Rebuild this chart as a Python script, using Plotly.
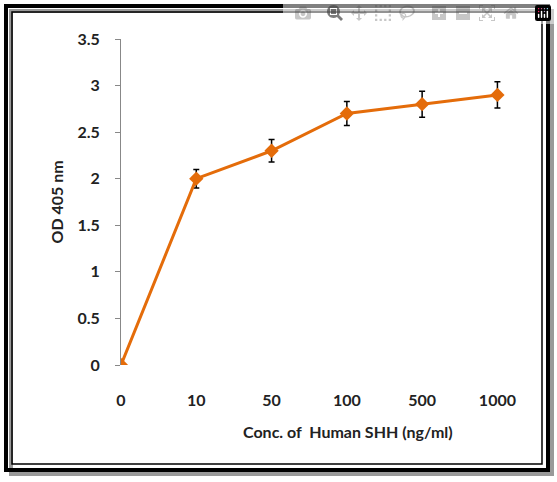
import plotly.graph_objects as go

conc_labels = ["0", "10", "50", "100", "500", "1000"]
od_values = [0, 2.0, 2.3, 2.7, 2.8, 2.9]
od_errors = [0, 0.1, 0.12, 0.13, 0.14, 0.14]
y_ticks = [0, 0.5, 1, 1.5, 2, 2.5, 3, 3.5]

W, H = 557, 482
ml, mr, mt, mb = 121, 37, 39, 117
pw, ph = W - ml - mr, H - mt - mb

def px_x(p):
    return (p - ml) / pw

def px_y(p):
    return (H - mb - p) / ph

orange = "#E46C0A"
fig = go.Figure()
fig.add_trace(go.Scatter(
    x=list(range(len(conc_labels))), y=od_values,
    mode="lines+markers",
    line=dict(color=orange, width=3),
    marker=dict(symbol="diamond", size=11, color=orange),
    error_y=dict(type="data", array=od_errors, color="black", thickness=1.5, width=3),
))

fnt = dict(family="Lato, Open Sans", size=16, color="#222")
fig.update_layout(
    width=W, height=H, margin=dict(l=ml, r=mr, t=mt, b=mb),
    plot_bgcolor="white", paper_bgcolor="white", showlegend=False,
    font=fnt,
    xaxis=dict(range=[0, 5.3], tickvals=list(range(len(conc_labels))),
               ticktext=["<b>%s</b>" % c for c in conc_labels],
               showgrid=False, zeroline=False, showline=False, ticklen=0,
               ticklabelstandoff=24),
    yaxis=dict(range=[0, 3.5], tickvals=y_ticks,
               ticktext=["<b>%s</b>" % t for t in ["0", "0.5", "1", "1.5", "2", "2.5", "3", "3.5"]],
               showgrid=False, zeroline=False, showline=True, linecolor="#888",
               ticks="outside", ticklen=5, tickcolor="#888", ticklabelstandoff=12),
)
fig.add_annotation(text="<b>OD 405 nm</b>", textangle=-90, xref="paper", yref="paper",
                   x=px_x(44), y=px_y(202), showarrow=False, font=fnt)
fig.add_annotation(text="<b>Conc. of  Human SHH (ng/ml)</b>", xref="paper", yref="paper",
                   x=px_x(348), y=px_y(443), showarrow=False, font=fnt)
# shadow and frame
fig.add_shape(type="rect", xref="paper", yref="paper",
              x0=px_x(11), x1=px_x(552), y0=px_y(474), y1=px_y(11),
              line=dict(color="#999", width=4), layer="below")
fig.add_shape(type="rect", xref="paper", yref="paper",
              x0=px_x(6), x1=px_x(548), y0=px_y(470), y1=px_y(6),
              line=dict(color="black", width=4), layer="below")
fig.add_shape(type="rect", xref="paper", yref="paper",
              x0=px_x(12), x1=px_x(542), y0=px_y(464), y1=px_y(12),
              line=dict(color="black", width=1.5), layer="below")
fig.write_html("out.html", post_script="document.body.style.margin='0';")
